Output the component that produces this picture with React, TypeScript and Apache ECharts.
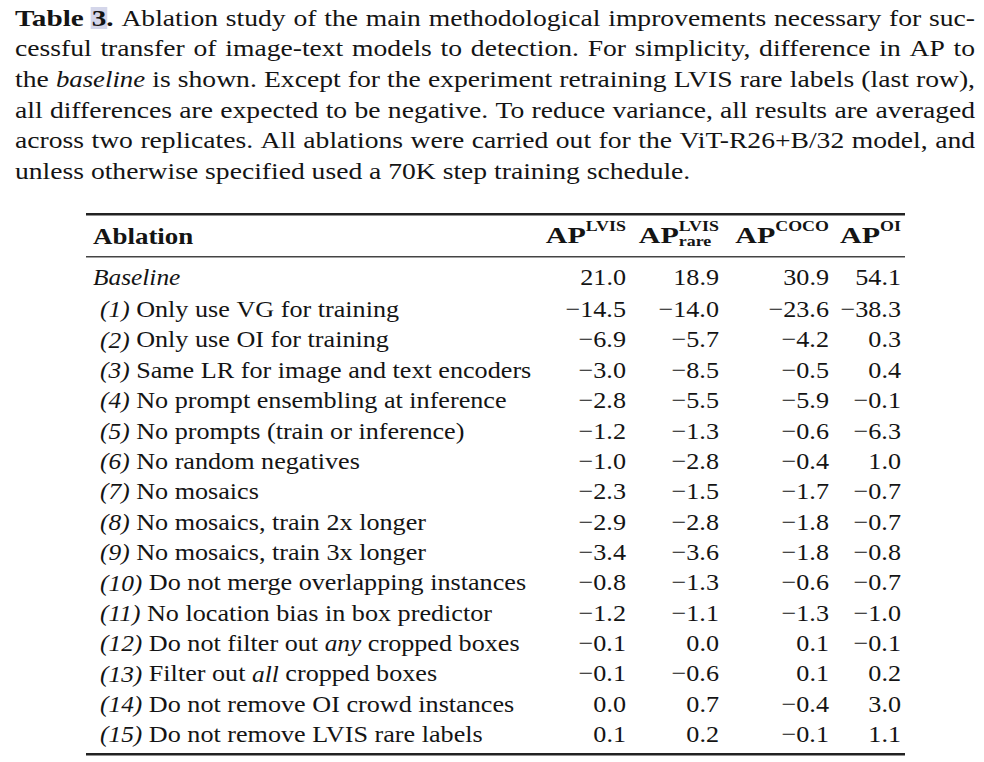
import React, { useEffect, useRef } from "react";
import * as echarts from "echarts";

// ---------- data ----------
const captionLines: string[] = [
  "*Table* #3#*.* Ablation study of the main methodological improvements necessary for suc-",
  "cessful transfer of image-text models to detection. For simplicity, difference in AP to",
  "the _baseline_ is shown. Except for the experiment retraining LVIS rare labels (last row),",
  "all differences are expected to be negative. To reduce variance, all results are averaged",
  "across two replicates. All ablations were carried out for the ViT-R26+B/32 model, and",
  "unless otherwise specified used a 70K step training schedule.",
];

const headerLabel = "Ablation";
const columnHeaders = [
  { base: "AP", sup: "LVIS", sub: "" },
  { base: "AP", sup: "LVIS", sub: "rare" },
  { base: "AP", sup: "COCO", sub: "" },
  { base: "AP", sup: "OI", sub: "" },
];

const rowLabels: string[] = [
  "_Baseline_",
  "_(1)_ Only use VG for training",
  "_(2)_ Only use OI for training",
  "_(3)_ Same LR for image and text encoders",
  "_(4)_ No prompt ensembling at inference",
  "_(5)_ No prompts (train or inference)",
  "_(6)_ No random negatives",
  "_(7)_ No mosaics",
  "_(8)_ No mosaics, train 2x longer",
  "_(9)_ No mosaics, train 3x longer",
  "_(10)_ Do not merge overlapping instances",
  "_(11)_ No location bias in box predictor",
  "_(12)_ Do not filter out _any_ cropped boxes",
  "_(13)_ Filter out _all_ cropped boxes",
  "_(14)_ Do not remove OI crowd instances",
  "_(15)_ Do not remove LVIS rare labels",
];

const apLvis = [21.0, -14.5, -6.9, -3.0, -2.8, -1.2, -1.0, -2.3, -2.9, -3.4, -0.8, -1.2, -0.1, -0.1, 0.0, 0.1];
const apLvisRare = [18.9, -14.0, -5.7, -8.5, -5.5, -1.3, -2.8, -1.5, -2.8, -3.6, -1.3, -1.1, 0.0, -0.6, 0.7, 0.2];
const apCoco = [30.9, -23.6, -4.2, -0.5, -5.9, -0.6, -0.4, -1.7, -1.8, -1.8, -0.6, -1.3, 0.1, 0.1, -0.4, -0.1];
const apOi = [54.1, -38.3, 0.3, 0.4, -0.1, -6.3, 1.0, -0.7, -0.7, -0.8, -0.7, -1.0, -0.1, 0.2, 3.0, 1.1];
const columns = [apLvis, apLvisRare, apCoco, apOi];

// ---------- layout ----------
const FONT = '"Liberation Serif", "Times New Roman", serif';
const FS = 24;
const INK = "#141414";
const CAP_X0 = 15;
const CAP_X1 = 975;
const CAP_Y0 = 18;
const CAP_DY = 30.6;
const CAP_SX = 1.15;
const TAB_SX = 1.09;
const HEAD_SX = 1.25;
const SCRIPT_SX = 1.28;
const COL_RIGHT = [626, 719, 829, 901];
const TABLE_X0 = 86;
const TABLE_X1 = 905;

type Run = { t: string; s: "r" | "b" | "i" | "h" };

function parseRuns(word: string): Run[] {
  const parts = word.split(/(\*[^*]+\*|_[^_]+_|#[^#]+#)/).filter((p) => p.length > 0);
  return parts.map((p) => {
    if (p.startsWith("*")) return { t: p.slice(1, -1), s: "b" };
    if (p.startsWith("_")) return { t: p.slice(1, -1), s: "i" };
    if (p.startsWith("#")) return { t: p.slice(1, -1), s: "h" };
    return { t: p, s: "r" };
  });
}

let ctx: CanvasRenderingContext2D | null = null;
function measure(text: string, size: number, weight: string, style: string) {
  if (!ctx) ctx = document.createElement("canvas").getContext("2d");
  ctx!.font = `${style} ${weight} ${size}px ${FONT}`;
  return ctx!.measureText(text).width;
}

function runFont(s: Run["s"]) {
  return {
    fontWeight: s === "b" || s === "h" ? "bold" : "normal",
    fontStyle: s === "i" ? "italic" : "normal",
  };
}

function runScale(s: Run["s"], sx: number) {
  if (s === "b" || s === "h") return sx * 1.06;
  if (s === "i") return sx * 0.97;
  return sx;
}

function textEl(text: string, x: number, y: number, size: number, weight: string, style: string, align = "left", sx = 1) {
  return {
    type: "text",
    x,
    y,
    scaleX: sx,
    silent: true,
    style: {
      text,
      fill: INK,
      fontFamily: FONT,
      fontSize: size,
      fontWeight: weight,
      fontStyle: style,
      align,
      textAlign: align,
      verticalAlign: "middle",
      textVerticalAlign: "middle",
    },
  };
}

function layoutLine(line: string, x0: number, y: number, size: number, sx: number, justifyTo?: number) {
  const els: any[] = [];
  const words = line.split(" ").map(parseRuns);
  const runW = (r: Run) => {
    const f = runFont(r.s);
    return measure(r.t, size, f.fontWeight, f.fontStyle) * runScale(r.s, sx);
  };
  const widths = words.map((runs) => runs.reduce((acc, r) => acc + runW(r), 0));
  const total = widths.reduce((a, b) => a + b, 0);
  const gap =
    justifyTo !== undefined && words.length > 1
      ? (justifyTo - x0 - total) / (words.length - 1)
      : measure(" ", size, "normal", "normal") * sx;
  let x = x0;
  words.forEach((runs, wi) => {
    let rx = x;
    runs.forEach((r) => {
      const f = runFont(r.s);
      const w = runW(r);
      if (r.s === "h") {
        els.push({
          type: "rect",
          silent: true,
          shape: { x: rx - 1, y: y - 11, width: w + 2, height: 22 },
          style: { fill: "#d4d6ea" },
        });
      }
      els.push(textEl(r.t, rx, y, size, f.fontWeight, f.fontStyle, "left", runScale(r.s, sx)));
      rx += w;
    });
    x += widths[wi] + gap;
  });
  return els;
}

function fmt(v: number) {
  const s = Math.abs(v).toFixed(1);
  return v < 0 ? "\u2212" + s : s;
}

function buildGraphic() {
  const els: any[] = [];
  // caption
  captionLines.forEach((line, i) => {
    const last = i === captionLines.length - 1;
    els.push(...layoutLine(line, CAP_X0, CAP_Y0 + i * CAP_DY, FS, CAP_SX, last ? undefined : CAP_X1));
  });

  // rules
  els.push({ type: "rect", silent: true, shape: { x: TABLE_X0, y: 213, width: TABLE_X1 - TABLE_X0, height: 2.4 }, style: { fill: "#222" } });
  els.push({ type: "rect", silent: true, shape: { x: TABLE_X0, y: 256, width: TABLE_X1 - TABLE_X0, height: 1.6 }, style: { fill: "#444" } });
  els.push({ type: "rect", silent: true, shape: { x: TABLE_X0, y: 753, width: TABLE_X1 - TABLE_X0, height: 2.4 }, style: { fill: "#222" } });

  // header
  const HY = 236;
  els.push(textEl(headerLabel, 93, HY, FS, "bold", "normal", "left", TAB_SX * 1.03));
  const SUP = 14;
  columnHeaders.forEach((h, ci) => {
    const right = COL_RIGHT[ci];
    const supW = measure(h.sup, SUP, "bold", "normal") * SCRIPT_SX;
    const subW = h.sub ? measure(h.sub, SUP, "bold", "normal") * SCRIPT_SX : 0;
    const scriptW = Math.max(supW, subW);
    const baseW = measure(h.base, FS, "bold", "normal") * HEAD_SX;
    const bx = right - scriptW - baseW;
    els.push(textEl(h.base, bx, HY - 1, FS, "bold", "normal", "left", HEAD_SX));
    els.push(textEl(h.sup, right - scriptW, HY - 10, SUP, "bold", "normal", "left", SCRIPT_SX));
    if (h.sub) els.push(textEl(h.sub, right - scriptW, HY + 5, SUP, "bold", "normal", "left", SCRIPT_SX));
  });

  // rows
  rowLabels.forEach((label, ri) => {
    const y = ri === 0 ? 277 : 309 + (ri - 1) * 30.36;
    const x0 = ri === 0 ? 93 : 100;
    els.push(...layoutLine(label, x0, y, FS, TAB_SX));
    columns.forEach((col, ci) => {
      els.push(textEl(fmt(col[ri]), COL_RIGHT[ci], y, FS, "normal", "normal", "right", TAB_SX));
    });
  });
  return els;
}

export default function App() {
  const ref = useRef<HTMLDivElement>(null);
  useEffect(() => {
    document.body.style.margin = "0";
    const chart = echarts.init(ref.current!, undefined, { renderer: "svg" });
    chart.setOption({
      animation: false,
      backgroundColor: "#ffffff",
      graphic: { elements: buildGraphic() },
    });
    return () => chart.dispose();
  }, []);
  return <div ref={ref} style={{ width: 984, height: 762 }} />;
}
